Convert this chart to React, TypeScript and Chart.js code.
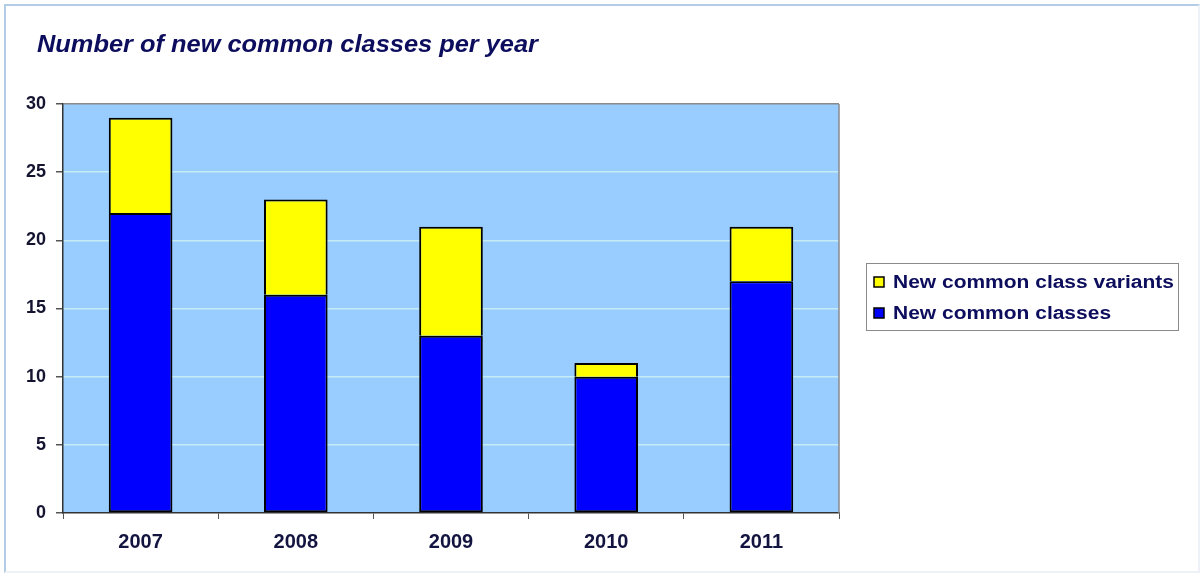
import React, { useEffect, useRef } from "react";
import { Chart, registerables } from "chart.js";

Chart.register(...registerables);

const years = ["2007", "2008", "2009", "2010", "2011"];
const newClasses = [22, 16, 13, 10, 17];
const newVariants = [7, 7, 8, 1, 4];
const yTicks = [0, 5, 10, 15, 20, 25, 30];
const titleText = "Number of new common classes per year";
const seriesNames = ["New common classes", "New common class variants"];

const FONT = "'Liberation Sans', Arial, sans-serif";

const bgPlugin = {
  id: "plotBg",
  beforeDraw(chart: any) {
    const { ctx, chartArea: a } = chart;
    ctx.save();
    ctx.fillStyle = "#99CCFF";
    ctx.fillRect(a.left, a.top, a.right - a.left, a.bottom - a.top);
    ctx.restore();
  },
  beforeDatasetsDraw(chart: any) {
    const { ctx, chartArea: a } = chart;
    ctx.save();
    ctx.strokeStyle = "#8a8a8a";
    ctx.lineWidth = 1.5;
    ctx.beginPath();
    ctx.moveTo(a.right, a.top);
    ctx.lineTo(a.right, a.bottom);
    ctx.stroke();
    ctx.restore();
  },
};

function stretchedText(ctx: any, text: string, x: number, y: number, factor: number) {
  ctx.save();
  ctx.translate(x, y);
  ctx.scale(factor, 1);
  ctx.fillText(text, 0, 0);
  ctx.restore();
}

const titlePlugin = {
  id: "customTitle",
  afterDraw(chart: any) {
    const { ctx } = chart;
    ctx.save();
    ctx.font = `italic bold 23px ${FONT}`;
    ctx.fillStyle = "#0d0d5e";
    ctx.textBaseline = "alphabetic";
    ctx.textAlign = "left";
    const f = 501 / ctx.measureText(titleText).width;
    stretchedText(ctx, titleText, 37, 52, f);
    ctx.restore();
  },
};

const legendPlugin = {
  id: "customLegend",
  afterDraw(chart: any) {
    const { ctx } = chart;
    const x = 866, y = 263, w = 312, h = 67;
    ctx.save();
    ctx.fillStyle = "#ffffff";
    ctx.fillRect(x, y, w, h);
    ctx.strokeStyle = "#8a8a8a";
    ctx.lineWidth = 1;
    ctx.strokeRect(x + 0.5, y + 0.5, w, h);
    const items = chart.data.datasets.slice().reverse();
    ctx.font = `bold 18px ${FONT}`;
    const f = 281 / ctx.measureText(items[0].label).width;
    items.forEach((ds: any, i: number) => {
      const cy = y + 19 + i * 31;
      ctx.fillStyle = ds.backgroundColor;
      ctx.fillRect(874, cy - 5, 10, 10);
      ctx.strokeStyle = "#000";
      ctx.lineWidth = 1.5;
      ctx.strokeRect(874, cy - 5, 10, 10);
      ctx.fillStyle = "#0d0d5e";
      ctx.textBaseline = "middle";
      ctx.textAlign = "left";
      stretchedText(ctx, ds.label, 893, cy + 1, f);
    });
    ctx.restore();
  },
};

export default function App() {
  const ref = useRef<HTMLCanvasElement>(null);
  useEffect(() => {
    if (!ref.current) return;
    const chart = new Chart(ref.current, {
      type: "bar",
      data: {
        labels: years,
        datasets: [
          {
            label: seriesNames[0],
            data: newClasses,
            backgroundColor: "#0000FF",
            borderColor: "#000000",
            borderWidth: 2,
            borderSkipped: false,
          },
          {
            label: seriesNames[1],
            data: newVariants,
            backgroundColor: "#FFFF00",
            borderColor: "#000000",
            borderWidth: 2,
            borderSkipped: "start",
          },
        ],
      },
      options: {
        responsive: false,
        animation: false,
        datasets: { bar: { categoryPercentage: 1, barPercentage: 0.41 } },
        layout: { padding: { left: 0, top: 104, right: 364, bottom: 23 } },
        plugins: {
          legend: { display: false },
          title: { display: false },
          tooltip: { enabled: false },
        },
        scales: {
          x: {
            stacked: true,
            offset: true,
            afterFit: (s: any) => { s.height = 40; },
            grid: {
              offset: true,
              drawOnChartArea: false,
              drawTicks: true,
              tickLength: 6,
              tickColor: "#555",
              lineWidth: 1,
            },
            border: { display: true, color: "#333", width: 1.5 },
            ticks: {
              color: "#141440",
              font: { family: FONT, size: 20, weight: "bold" },
              padding: 11,
            },
          },
          y: {
            stacked: true,
            min: 0,
            max: 30,
            afterFit: (s: any) => { s.width = 63; },
            afterBuildTicks: (s: any) => { s.ticks = yTicks.map((v) => ({ value: v })); },
            grid: {
              color: (c: any) =>
                c.tick && c.tick.value === 30 ? "#8a8a8a" : c.tick && c.tick.value === 0 ? "rgba(0,0,0,0)" : "#c4ecf4",
              lineWidth: 1.5,
              tickLength: 7,
              tickColor: "#555",
            },
            border: { display: true, color: "#333", width: 1.5 },
            ticks: {
              color: "#141430",
              font: { family: FONT, size: 18, weight: "bold" },
              padding: 10,
            },
          },
        },
      },
      plugins: [bgPlugin, titlePlugin, legendPlugin],
    });
    return () => chart.destroy();
  }, []);

  return (
    <div style={{ position: "absolute", left: 0, top: 0, width: 1203, height: 576, background: "#fff" }}>
      <div
        style={{
          position: "absolute",
          left: 4,
          top: 4,
          width: 1192,
          height: 565,
          borderTop: "2px solid #b4cde6",
          borderLeft: "2px solid #b4cde6",
          borderRight: "2px solid #eef2f6",
          borderBottom: "2px solid #eef2f6",
        }}
      />
      <canvas ref={ref} width={1203} height={576} style={{ position: "absolute", left: 0, top: 0 }} />
    </div>
  );
}
